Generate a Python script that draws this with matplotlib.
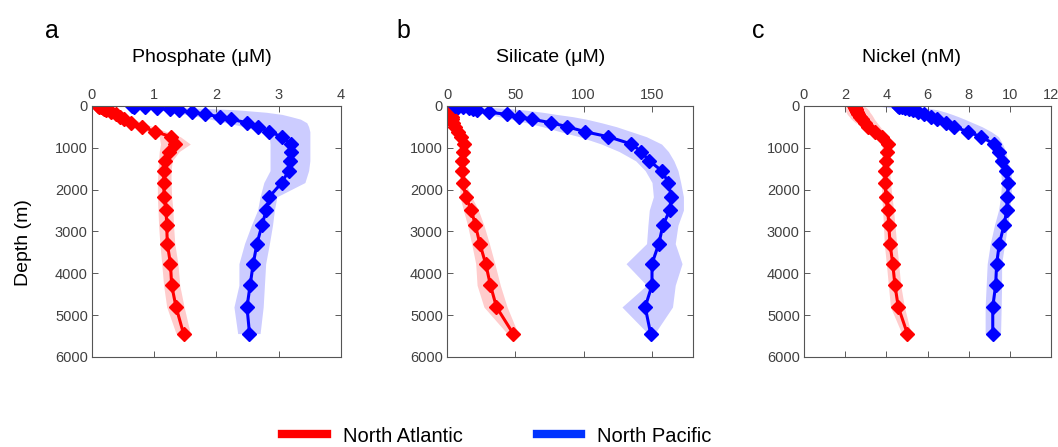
import matplotlib
matplotlib.use('Agg')
import matplotlib.pyplot as plt
from matplotlib.lines import Line2D
import numpy as np

plt.rcParams['font.family'] = ['Liberation Sans', 'DejaVu Sans']

# Depth levels (m) shared by every profile
depth = [5, 15, 30, 50, 75, 100, 150, 200, 255, 315, 400, 495, 615, 735, 910,
         1090, 1310, 1545, 1830, 2170, 2490, 2850, 3290, 3770, 4285, 4805, 5440]

# Phosphate (uM)
po4_atl = [0.10, 0.12, 0.14, 0.17, 0.19, 0.23, 0.31, 0.38, 0.45, 0.52, 0.63, 0.80, 1.02, 1.27, 1.34,
           1.23, 1.18, 1.16, 1.15, 1.16, 1.19, 1.20, 1.21, 1.26, 1.28, 1.35, 1.47]
po4_atl_lo = [0.00, 0.00, 0.02, 0.04, 0.07, 0.10, 0.17, 0.24, 0.31, 0.38, 0.50, 0.66, 0.88, 1.08, 1.10,
              1.08, 1.07, 1.06, 1.05, 1.05, 1.06, 1.07, 1.09, 1.12, 1.15, 1.20, 1.35]
po4_atl_hi = [0.20, 0.24, 0.27, 0.30, 0.32, 0.36, 0.44, 0.52, 0.60, 0.68, 0.80, 0.98, 1.20, 1.42, 1.58,
              1.40, 1.29, 1.27, 1.27, 1.28, 1.30, 1.31, 1.33, 1.38, 1.41, 1.48, 1.58]
po4_pac = [0.65, 0.67, 0.85, 1.05, 1.25, 1.40, 1.60, 1.82, 2.05, 2.23, 2.49, 2.67, 2.85, 3.05, 3.19,
           3.19, 3.18, 3.16, 3.05, 2.85, 2.80, 2.73, 2.65, 2.59, 2.54, 2.49, 2.53]
po4_pac_lo = [0.50, 0.55, 0.70, 0.85, 1.00, 1.10, 1.30, 1.50, 1.70, 1.90, 2.15, 2.45, 2.70, 2.85, 2.86,
              2.86, 2.86, 2.86, 2.76, 2.70, 2.66, 2.56, 2.45, 2.36, 2.36, 2.28, 2.34]
po4_pac_hi = [0.75, 0.90, 1.30, 1.70, 2.10, 2.40, 2.80, 3.05, 3.20, 3.35, 3.45, 3.48, 3.50, 3.50, 3.50,
              3.50, 3.50, 3.48, 3.42, 2.97, 2.93, 2.90, 2.85, 2.79, 2.77, 2.75, 2.70]

# Silicate (uM)
si_atl = [0.5, 1.0, 1.5, 1.8, 2.0, 2.2, 2.5, 3.0, 3.5, 4.0, 4.5, 5.5, 8.0, 10.5, 12.2,
          11.7, 11.2, 11.2, 11.7, 13.7, 17.8, 20.8, 24.0, 28.3, 31.8, 36.2, 48.4]
si_atl_lo = [0.0, 0.0, 0.3, 0.6, 0.8, 1.0, 1.3, 1.8, 2.3, 2.8, 3.3, 4.2, 6.5, 9.0, 10.5,
             10.0, 9.8, 9.5, 9.3, 9.5, 12.0, 15.0, 18.0, 21.0, 22.0, 27.0, 44.0]
si_atl_hi = [1.8, 2.3, 2.8, 3.2, 3.5, 3.8, 4.1, 4.6, 5.1, 5.6, 6.2, 7.3, 10.0, 12.5, 14.0,
             13.2, 12.8, 12.8, 13.5, 18.0, 23.0, 27.0, 31.0, 35.0, 39.0, 44.0, 52.0]
si_pac = [6, 8, 12, 16, 19, 22, 31, 44, 53, 62, 76, 88, 101, 118, 135,
          142, 148, 157, 162, 164, 163, 158, 155, 150, 150, 145, 149]
si_pac_lo = [2, 4, 6, 9, 12, 15, 22, 30, 38, 47, 58, 70, 83, 97, 113,
             126, 138, 145, 150, 151, 148, 147, 146, 131, 146, 128, 147]
si_pac_hi = [12, 20, 30, 40, 50, 58, 70, 80, 92, 102, 113, 124, 135, 146, 157,
             162, 166, 169, 171, 173, 173, 169, 167, 172, 167, 165, 152]

# Nickel (nM)
ni_atl = [2.45, 2.47, 2.48, 2.50, 2.52, 2.54, 2.58, 2.64, 2.74, 2.82, 2.96, 3.12, 3.45, 3.80, 4.08,
          4.02, 3.97, 3.94, 3.94, 3.98, 4.07, 4.12, 4.18, 4.31, 4.42, 4.58, 5.02]
ni_atl_lo = [2.00, 1.95, 1.95, 1.95, 1.97, 2.00, 2.05, 2.10, 2.20, 2.30, 2.50, 2.90, 3.30, 3.60, 3.80,
             3.78, 3.77, 3.76, 3.76, 3.78, 3.82, 3.86, 3.90, 4.00, 4.10, 4.20, 4.75]
ni_atl_hi = [2.85, 2.95, 3.00, 3.05, 3.10, 3.15, 3.20, 3.28, 3.35, 3.42, 3.55, 3.70, 3.90, 4.10, 4.30,
             4.22, 4.18, 4.17, 4.20, 4.28, 4.35, 4.42, 4.50, 4.60, 4.70, 4.88, 5.20]
ni_pac = [4.55, 4.60, 4.75, 4.90, 5.10, 5.30, 5.55, 5.85, 6.15, 6.45, 6.90, 7.30, 7.95, 8.60, 9.25,
          9.48, 9.60, 9.80, 9.93, 9.88, 9.85, 9.72, 9.49, 9.36, 9.31, 9.17, 9.17]
ni_pac_lo = [3.60, 3.80, 4.00, 4.30, 4.60, 4.85, 5.10, 5.40, 5.75, 6.10, 6.60, 7.10, 7.80, 8.50, 9.05,
             9.30, 9.40, 9.55, 9.60, 9.55, 9.45, 9.25, 9.05, 8.90, 8.85, 8.80, 8.80]
ni_pac_hi = [4.90, 5.30, 5.70, 6.00, 6.30, 6.55, 6.90, 7.20, 7.50, 7.80, 8.20, 8.65, 9.10, 9.45, 9.65,
             9.80, 9.90, 10.05, 10.10, 10.05, 10.00, 9.90, 9.75, 9.60, 9.60, 9.58, 9.55]

RED = '#ff0000'
BLUE = '#0000ff'

panels = [
    ('a', 'Phosphate (μM)', (po4_atl, po4_atl_lo, po4_atl_hi), (po4_pac, po4_pac_lo, po4_pac_hi),
     (0, 4), [0, 1, 2, 3, 4]),
    ('b', 'Silicate (μM)', (si_atl, si_atl_lo, si_atl_hi), (si_pac, si_pac_lo, si_pac_hi),
     (0, 180), [0, 50, 100, 150]),
    ('c', 'Nickel (nM)', (ni_atl, ni_atl_lo, ni_atl_hi), (ni_pac, ni_pac_lo, ni_pac_hi),
     (0, 12), [0, 2, 4, 6, 8, 10, 12]),
]

W, H = 1058, 447
fig = plt.figure(figsize=(W / 100, H / 100), dpi=100)

# axes boxes in pixels: left, right
boxes = [(92, 341), (447, 693), (804, 1051)]
top_px, bot_px = 106, 357
letter_x = [45, 396, 752]
title_x = [202, 551, 912]

for (letter, title, atl, pac, xlim, xticks), (l, r), lx, tx in zip(panels, boxes, letter_x, title_x):
    ax = fig.add_axes([l / W, 1 - bot_px / H, (r - l) / W, (bot_px - top_px) / H])
    for (val, lo, hi), col in ((atl, RED), (pac, BLUE)):
        ax.fill_betweenx(depth, lo, hi, color=col, alpha=0.2, lw=0)
        ax.plot(val, depth, '-D', color=col, lw=2.2, ms=7, mec=col, mfc=col)
    ax.set_xlim(*xlim)
    ax.set_ylim(6000, 0)
    ax.set_xticks(xticks)
    ax.set_yticks(range(0, 6001, 1000))
    ax.xaxis.tick_top()
    ax.tick_params(which='both', direction='in', length=4, width=0.6,
                   top=True, bottom=True, left=True, right=True,
                   labeltop=True, labelbottom=False, labelsize=10.5,
                   colors='#404040', pad=3)
    for s in ax.spines.values():
        s.set_color('#555555')
        s.set_linewidth(0.8)
    fig.text(lx / W, 1 - 31 / H, letter, fontsize=18, ha='left', va='center')
    fig.text(tx / W, 1 - 57 / H, title, fontsize=14, ha='center', va='center')

fig.text(23 / W, 1 - 243 / H, 'Depth (m)', fontsize=14, rotation=90,
         ha='center', va='center')

handles = [Line2D([], [], color=RED, lw=6), Line2D([], [], color='#0033ff', lw=6)]
fig.legend(handles, ['North Atlantic', 'North Pacific'], loc='center',
           bbox_to_anchor=(497 / W, 1 - 436 / H), ncol=2, frameon=False,
           fontsize=14.5, handlelength=2.2, handletextpad=0.8, columnspacing=3.7)

fig.savefig('out.png', dpi=100)
